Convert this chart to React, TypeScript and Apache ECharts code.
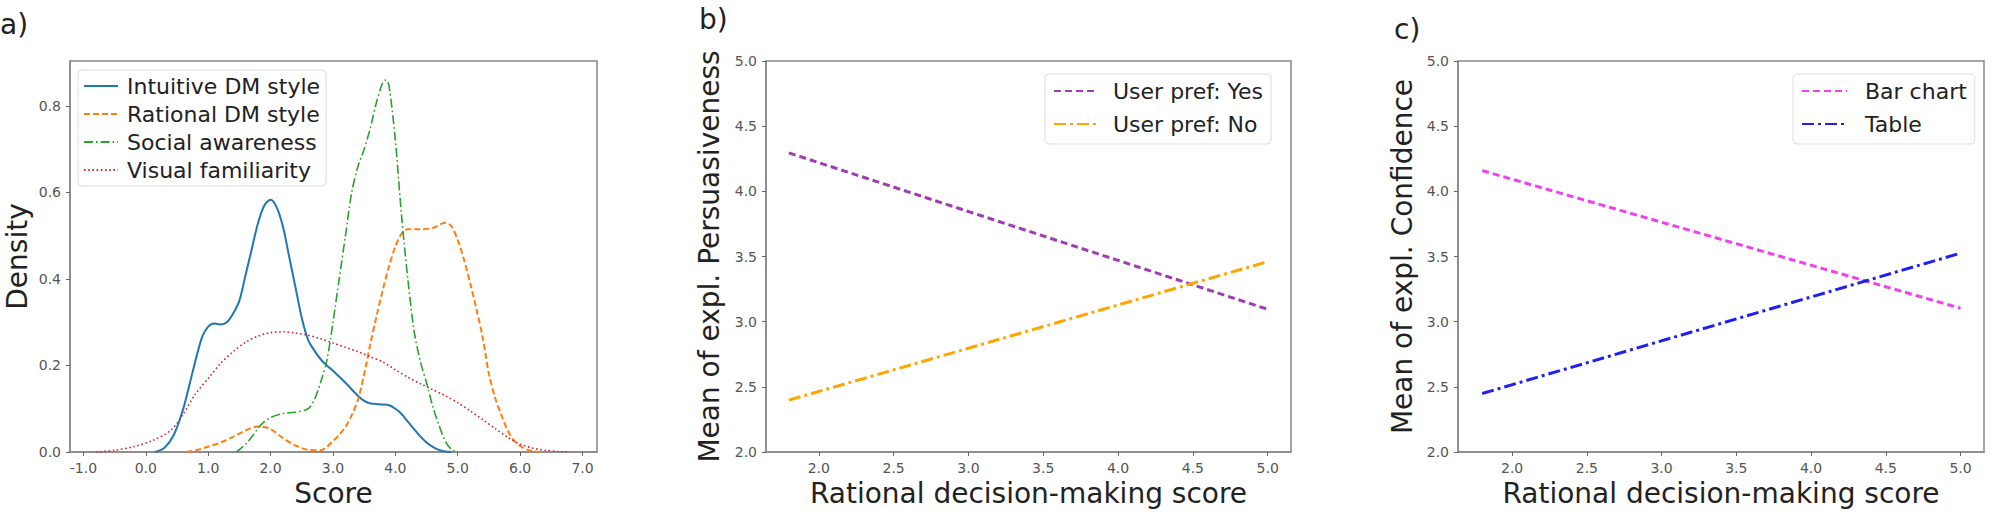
import React, { useEffect, useRef } from "react";
import * as echarts from "echarts";

// ---- Panel a: KDE densities ----
const intuitiveX = [0.15, 0.3, 0.45, 0.6, 0.75, 0.9, 1.0, 1.1, 1.2, 1.3, 1.4, 1.5, 1.6, 1.7, 1.8, 1.9, 2.0, 2.1, 2.2, 2.3, 2.4, 2.5, 2.6, 2.7, 2.8, 2.9, 3.0, 3.2, 3.4, 3.5, 3.6, 3.8, 3.9, 4.0, 4.1, 4.2, 4.3, 4.4, 4.5, 4.6, 4.7, 4.8, 4.9];
const intuitiveY = [0, 0.01, 0.04, 0.1, 0.185, 0.265, 0.29, 0.297, 0.295, 0.3, 0.32, 0.35, 0.41, 0.47, 0.53, 0.57, 0.583, 0.565, 0.52, 0.45, 0.38, 0.31, 0.26, 0.235, 0.215, 0.2, 0.188, 0.16, 0.13, 0.118, 0.112, 0.11, 0.108, 0.1, 0.088, 0.07, 0.053, 0.036, 0.022, 0.012, 0.005, 0.001, 0];

const rationalX = [0.65, 0.8, 1.0, 1.2, 1.4, 1.6, 1.8, 2.0, 2.2, 2.4, 2.6, 2.8, 3.0, 3.1, 3.2, 3.3, 3.4, 3.5, 3.6, 3.7, 3.8, 3.9, 4.0, 4.1, 4.2, 4.4, 4.6, 4.8, 4.9, 5.0, 5.1, 5.2, 5.3, 5.4, 5.5, 5.6, 5.7, 5.8, 5.9, 6.0, 6.1, 6.2, 6.3];
const rationalY = [0, 0.004, 0.012, 0.022, 0.035, 0.05, 0.059, 0.053, 0.032, 0.015, 0.005, 0.004, 0.025, 0.04, 0.058, 0.085, 0.12, 0.18, 0.25, 0.315, 0.375, 0.43, 0.475, 0.505, 0.515, 0.515, 0.518, 0.53, 0.522, 0.49, 0.445, 0.39, 0.33, 0.265, 0.18, 0.125, 0.085, 0.05, 0.027, 0.014, 0.006, 0.002, 0];

const socialX = [1.45, 1.6, 1.7, 1.8, 1.9, 2.0, 2.2, 2.4, 2.6, 2.7, 2.8, 2.9, 3.0, 3.1, 3.2, 3.3, 3.4, 3.5, 3.6, 3.7, 3.8, 3.85, 3.9, 4.0, 4.1, 4.2, 4.3, 4.4, 4.5, 4.6, 4.7, 4.8, 4.9, 5.0];
const socialY = [0, 0.018, 0.035, 0.055, 0.07, 0.08, 0.089, 0.092, 0.1, 0.12, 0.16, 0.21, 0.3, 0.4, 0.5, 0.6, 0.66, 0.7, 0.75, 0.81, 0.855, 0.86, 0.845, 0.72, 0.545, 0.4, 0.28, 0.21, 0.16, 0.105, 0.062, 0.025, 0.006, 0];

const visualX = [-0.8, -0.5, -0.2, 0.1, 0.4, 0.6, 0.8, 1.0, 1.2, 1.4, 1.6, 1.8, 2.0, 2.2, 2.4, 2.6, 2.8, 3.0, 3.2, 3.4, 3.6, 3.8, 4.0, 4.2, 4.4, 4.6, 4.8, 5.0, 5.2, 5.4, 5.6, 5.8, 6.0, 6.2, 6.4, 6.6, 6.8];
const visualY = [0, 0.004, 0.012, 0.026, 0.05, 0.088, 0.135, 0.17, 0.205, 0.232, 0.254, 0.268, 0.276, 0.278, 0.275, 0.27, 0.262, 0.252, 0.242, 0.232, 0.22, 0.208, 0.19, 0.173, 0.158, 0.144, 0.13, 0.114, 0.095, 0.075, 0.054, 0.034, 0.018, 0.009, 0.004, 0.001, 0];

const scoreTicks = [-1, 0, 1, 2, 3, 4, 5, 6, 7];
const densityTicks = [0, 0.2, 0.4, 0.6, 0.8];

// ---- Panels b and c: interaction lines ----
const rationalScore = [1.8, 5.0];
const persuasiveYes = [4.295, 3.095];
const persuasiveNo = [2.398, 3.46];
const confidenceBar = [4.159, 3.103];
const confidenceTable = [2.449, 3.526];
const rationalTicks = [2.0, 2.5, 3.0, 3.5, 4.0, 4.5, 5.0];

const FONT = "DejaVu Sans";
const zip = (xs: number[], ys: number[]) => xs.map((x, i) => [x, ys[i]]);

export default function App() {
  const ref = useRef<HTMLDivElement>(null);
  useEffect(() => {
    if (!ref.current) return;
    const chart = echarts.init(ref.current, null, { renderer: "svg" });

    const gridBase = { show: true, borderColor: "#888", borderWidth: 1.5, backgroundColor: "#fff" };
    const axisCommon = {
      splitLine: { show: false },
      axisLine: { onZero: false, lineStyle: { color: "#888", width: 1.5 } },
      axisTick: { show: true, length: 4, lineStyle: { color: "#666" } },
      nameTextStyle: { fontSize: 28, color: "#222", fontFamily: FONT },
    };
    const tickLabel = { fontSize: 14, color: "#555", fontFamily: FONT, margin: 9 };

    const legendBase = {
      orient: "vertical",
      backgroundColor: "#fff",
      borderColor: "#ddd",
      borderWidth: 1,
      borderRadius: 4,
      itemStyle: { opacity: 0 },
      textStyle: { fontSize: 22, color: "#222", fontFamily: FONT },
    };

    const lineSeries = (name: string, data: number[][], idx: number, color: string, width: number, type: any) => ({
      name,
      type: "line",
      xAxisIndex: idx,
      yAxisIndex: idx,
      data,
      smooth: idx === 0 ? 0.3 : false,
      symbol: "none",
      showSymbol: false,
      lineStyle: { color, width, type },
      itemStyle: { color },
    });

    const option: any = {
      animation: false,
      backgroundColor: "#fff",
      textStyle: { fontFamily: FONT },
      grid: [
        { ...gridBase, left: 70, top: 61, width: 527, height: 391 },
        { ...gridBase, left: 766, top: 61, width: 525, height: 391 },
        { ...gridBase, left: 1458, top: 61, width: 526, height: 391 },
      ],
      xAxis: [
        {
          ...axisCommon,
          type: "value",
          gridIndex: 0,
          min: -1.215,
          max: 7.232,
          name: "Score",
          nameLocation: "middle",
          nameGap: 27,
          axisTick: { ...axisCommon.axisTick, customValues: scoreTicks },
          axisLabel: { ...tickLabel, customValues: scoreTicks, formatter: (v: number) => v.toFixed(1) },
        },
        {
          ...axisCommon,
          type: "value",
          gridIndex: 1,
          min: 1.647,
          max: 5.156,
          name: "Rational decision-making score",
          nameLocation: "middle",
          nameGap: 27,
          axisTick: { ...axisCommon.axisTick, customValues: rationalTicks },
          axisLabel: { ...tickLabel, customValues: rationalTicks, formatter: (v: number) => v.toFixed(1) },
        },
        {
          ...axisCommon,
          type: "value",
          gridIndex: 2,
          min: 1.638,
          max: 5.157,
          name: "Rational decision-making score",
          nameLocation: "middle",
          nameGap: 27,
          axisTick: { ...axisCommon.axisTick, customValues: rationalTicks },
          axisLabel: { ...tickLabel, customValues: rationalTicks, formatter: (v: number) => v.toFixed(1) },
        },
      ],
      yAxis: [
        {
          ...axisCommon,
          type: "value",
          gridIndex: 0,
          min: 0,
          max: 0.904,
          name: "Density",
          nameLocation: "middle",
          nameGap: 39,
          axisTick: { ...axisCommon.axisTick, customValues: densityTicks },
          axisLabel: { ...tickLabel, customValues: densityTicks, formatter: (v: number) => v.toFixed(1) },
        },
        {
          ...axisCommon,
          type: "value",
          gridIndex: 1,
          min: 2,
          max: 5,
          interval: 0.5,
          name: "Mean of expl. Persuasiveness",
          nameLocation: "middle",
          nameGap: 43,
          axisLabel: { ...tickLabel, formatter: (v: number) => v.toFixed(1) },
        },
        {
          ...axisCommon,
          type: "value",
          gridIndex: 2,
          min: 2,
          max: 5,
          interval: 0.5,
          name: "Mean of expl. Confidence",
          nameLocation: "middle",
          nameGap: 42,
          axisLabel: { ...tickLabel, formatter: (v: number) => v.toFixed(1) },
        },
      ],
      legend: [
        {
          ...legendBase,
          left: 78,
          top: 70,
          padding: [5, 6, 5, 5],
          itemWidth: 34,
          itemHeight: 14,
          itemGap: 6,
          textStyle: { ...legendBase.textStyle, padding: [0, 0, 0, 4] },
          data: ["Intuitive DM style", "Rational DM style", "Social awareness", "Visual familiarity"],
        },
        {
          ...legendBase,
          left: 1045,
          top: 74,
          padding: [6, 8, 9, 8],
          itemWidth: 44,
          itemHeight: 14,
          itemGap: 11,
          textStyle: { ...legendBase.textStyle, padding: [0, 0, 0, 10] },
          data: ["User pref: Yes", "User pref: No"],
        },
        {
          ...legendBase,
          left: 1793,
          top: 74,
          padding: [6, 8, 9, 8],
          itemWidth: 45,
          itemHeight: 14,
          itemGap: 11,
          textStyle: { ...legendBase.textStyle, padding: [0, 0, 0, 13] },
          data: ["Bar chart", "Table"],
        },
      ],
      graphic: [
        { type: "text", left: 0, top: 10, style: { text: "a)", fontSize: 28, fill: "#222", fontFamily: FONT } },
        { type: "text", left: 699, top: 5, style: { text: "b)", fontSize: 28, fill: "#222", fontFamily: FONT } },
        { type: "text", left: 1394, top: 15, style: { text: "c)", fontSize: 28, fill: "#222", fontFamily: FONT } },
      ],
      series: [
        lineSeries("Intuitive DM style", zip(intuitiveX, intuitiveY), 0, "#1f77b4", 2, "solid"),
        lineSeries("Rational DM style", zip(rationalX, rationalY), 0, "#ff7f0e", 2, [6, 3]),
        lineSeries("Social awareness", zip(socialX, socialY), 0, "#2ca02c", 1.6, [9, 3, 1.6, 3]),
        lineSeries("Visual familiarity", zip(visualX, visualY), 0, "#d62728", 1.6, [1.6, 2.6]),
        lineSeries("User pref: Yes", zip(rationalScore, persuasiveYes), 1, "#a03cb4", 3, [7, 4]),
        lineSeries("User pref: No", zip(rationalScore, persuasiveNo), 1, "#ffa500", 3, [12, 4, 3, 4]),
        lineSeries("Bar chart", zip(rationalScore, confidenceBar), 2, "#f040f0", 3, [7, 4]),
        lineSeries("Table", zip(rationalScore, confidenceTable), 2, "#2020f0", 3, [12, 4, 3, 4]),
      ],
    };

    chart.setOption(option);
    return () => chart.dispose();
  }, []);

  return (
    <div
      ref={ref}
      style={{ position: "fixed", left: 0, top: 0, width: 2000, height: 514, background: "#fff" }}
    />
  );
}
